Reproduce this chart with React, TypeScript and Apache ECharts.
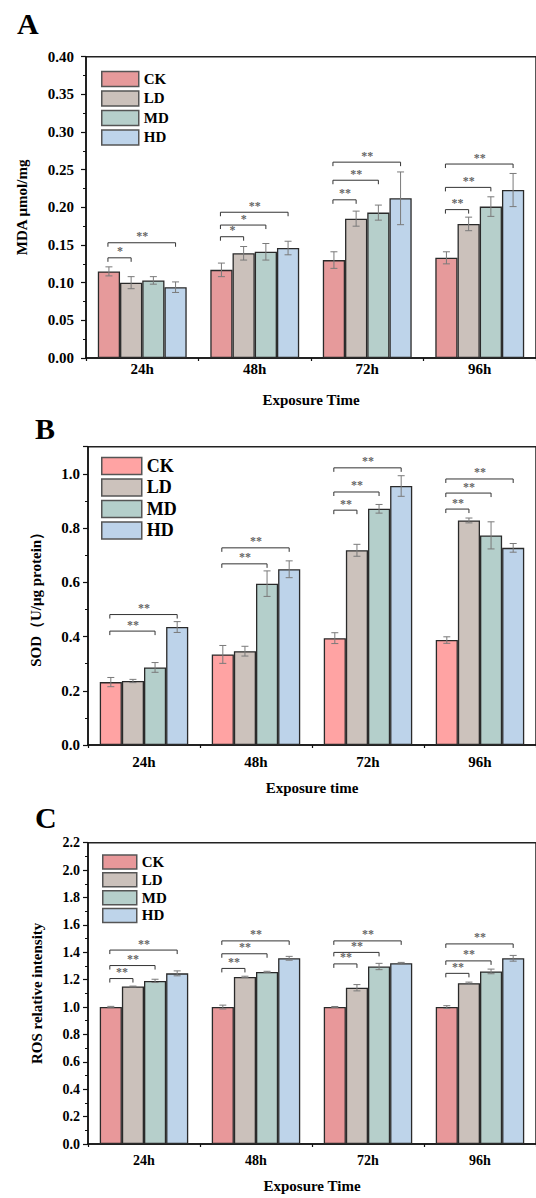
import React, { useEffect, useRef } from 'react';
import * as echarts from 'echarts';

const categories = ['24h', '48h', '72h', '96h'];
const groups = ['CK', 'LD', 'MD', 'HD'];

// Panel A: MDA
const mdaCK = [0.115, 0.117, 0.130, 0.133];
const mdaCKErr = [0.006, 0.009, 0.011, 0.008];
const mdaLD = [0.100, 0.139, 0.185, 0.178];
const mdaLDErr = [0.008, 0.009, 0.010, 0.009];
const mdaMD = [0.103, 0.141, 0.193, 0.201];
const mdaMDErr = [0.005, 0.011, 0.010, 0.013];
const mdaHD = [0.094, 0.146, 0.212, 0.223];
const mdaHDErr = [0.007, 0.009, 0.035, 0.022];

// Panel B: SOD
const sodCK = [0.232, 0.334, 0.394, 0.387];
const sodCKErr = [0.017, 0.033, 0.020, 0.012];
const sodLD = [0.236, 0.346, 0.718, 0.828];
const sodLDErr = [0.006, 0.018, 0.022, 0.009];
const sodMD = [0.286, 0.595, 0.871, 0.773];
const sodMDErr = [0.018, 0.047, 0.016, 0.050];
const sodHD = [0.435, 0.648, 0.955, 0.727];
const sodHDErr = [0.020, 0.031, 0.038, 0.016];

// Panel C: ROS
const rosCK = [1.0, 1.0, 1.0, 1.0];
const rosCKErr = [0.005, 0.014, 0.004, 0.010];
const rosLD = [1.150, 1.220, 1.141, 1.174];
const rosLDErr = [0.003, 0.005, 0.023, 0.008];
const rosMD = [1.191, 1.256, 1.296, 1.260];
const rosMDErr = [0.012, 0.005, 0.023, 0.017];
const rosHD = [1.246, 1.356, 1.320, 1.356];
const rosHDErr = [0.018, 0.014, 0.006, 0.021];

// Significance brackets: [category index, compared group index, bracket level, label]
const sigA: [number, number, number, string][] = [
  [0, 1, 0.133, '*'], [0, 3, 0.153, '**'],
  [1, 1, 0.161, '*'], [1, 2, 0.1765, '*'], [1, 3, 0.1935, '**'],
  [2, 1, 0.210, '**'], [2, 2, 0.236, '**'], [2, 3, 0.260, '**'],
  [3, 1, 0.197, '**'], [3, 2, 0.2265, '**'], [3, 3, 0.2575, '**'],
];
const sigB: [number, number, number, string][] = [
  [0, 2, 0.420, '**'], [0, 3, 0.481, '**'],
  [1, 2, 0.668, '**'], [1, 3, 0.727, '**'],
  [2, 1, 0.866, '**'], [2, 2, 0.933, '**'], [2, 3, 1.022, '**'],
  [3, 1, 0.870, '**'], [3, 2, 0.929, '**'], [3, 3, 0.981, '**'],
];
const sigC: [number, number, number, string][] = [
  [0, 1, 1.208, '**'], [0, 2, 1.303, '**'], [0, 3, 1.416, '**'],
  [1, 1, 1.282, '**'], [1, 2, 1.389, '**'], [1, 3, 1.483, '**'],
  [2, 1, 1.315, '**'], [2, 2, 1.399, '**'], [2, 3, 1.483, '**'],
  [3, 1, 1.246, '**'], [3, 2, 1.337, '**'], [3, 3, 1.461, '**'],
];

const colorsA = ['#E69A9B', '#CBC1BB', '#B6CFCB', '#BED4EA'];
const colorsB = ['#FFA3A3', '#CCC2BC', '#B4CFCB', '#BDD3EA'];
const colorsC = ['#E8989A', '#CBC1BB', '#B6CFCB', '#BED4EA'];

const FONT = "'Liberation Serif', 'Times New Roman', Times, serif";
const GAP = 0.21;

type PanelCfg = {
  letter: string;
  letterX: number;
  letterY: number;
  values: number[][];
  errors: number[][];
  sig: [number, number, number, string][];
  colors: string[];
  yMax: number;
  yInterval: number;
  decimals: number;
  yName: string;
  xName: string;
  grid: { left: number; right: number; top: number; bottom: number };
  legend: { left: number; top: number; w: number; h: number; gap: number; font: number };
  yLabelFont: number;
  yLabelMargin: number;
  xLabelFont: number;
  xLabelMargin: number;
  yNameGap: number;
  xNameGap: number;
  hideMax?: boolean;
};

// bar centre in "category units" (value axis 0..4 spans the same bands)
function barPos(cat: number, s: number) {
  return cat + 0.5 + (s - 1.5) * (1 - GAP) / 4;
}

function buildOption(p: PanelCfg): any {
  const errData: number[][] = [];
  for (let s = 0; s < 4; s++) {
    for (let c = 0; c < categories.length; c++) {
      errData.push([barPos(c, s), p.values[s][c], p.errors[s][c]]);
    }
  }
  const sigLineData = p.sig.map((d) => [barPos(d[0], 0), barPos(d[0], d[1]), d[2]]);
  const sigTextData = p.sig.map((d) => [(barPos(d[0], 0) + barPos(d[0], d[1])) / 2, d[2]]);
  const bold = { fontFamily: FONT, fontWeight: 'bold', color: '#000' };

  const barSeries = groups.map((g, i) => ({
    name: g,
    type: 'bar',
    data: p.values[i],
    barGap: '0%',
    barCategoryGap: GAP * 100 + '%',
    itemStyle: { color: p.colors[i], borderColor: '#2a2a2a', borderWidth: 1.3 },
    z: 2,
  }));

  return {
    animation: false,
    grid: {
      left: p.grid.left,
      right: p.grid.right,
      top: p.grid.top,
      bottom: p.grid.bottom,
      show: true,
      borderColor: '#222',
      borderWidth: 1.5,
      backgroundColor: 'transparent',
    },
    legend: {
      orient: 'vertical',
      left: p.legend.left,
      top: p.legend.top,
      padding: 0,
      itemWidth: p.legend.w,
      itemHeight: p.legend.h,
      itemGap: p.legend.gap,
      icon: 'rect',
      data: groups,
      itemStyle: { borderColor: '#555', borderWidth: 1.5 },
      textStyle: { ...bold, fontSize: p.legend.font, lineHeight: p.legend.h, padding: [0, 0, 0, 0] },
      selectedMode: false,
    },
    graphic: [
      {
        type: 'text',
        x: p.letterX,
        y: p.letterY,
        style: {
          text: p.letter,
          fontFamily: FONT,
          fontWeight: 'bold',
          fontSize: 30,
          fill: '#000',
          align: 'left',
          verticalAlign: 'middle',
        },
      },
    ],
    xAxis: [
      {
        type: 'category',
        data: categories,
        axisLine: { lineStyle: { color: '#111', width: 1.5 } },
        axisTick: { alignWithLabel: true, length: 4, lineStyle: { color: '#111', width: 1.2 } },
        axisLabel: { ...bold, fontSize: p.xLabelFont, margin: p.xLabelMargin },
        name: p.xName,
        nameLocation: 'middle',
        nameGap: p.xNameGap,
        nameTextStyle: { ...bold, fontSize: 15 },
      },
      {
        type: 'value',
        min: 0,
        max: 4,
        interval: 1,
        position: 'bottom',
        axisLine: { show: false },
        axisTick: { show: true, length: 3, lineStyle: { color: '#111', width: 1.2 } },
        axisLabel: { show: false },
        splitLine: { show: false },
      },
    ],
    yAxis: {
      type: 'value',
      min: 0,
      max: p.yMax,
      interval: p.yInterval,
      axisLine: { show: true, lineStyle: { color: '#111', width: 1.5 } },
      axisTick: { show: true, length: 5, lineStyle: { color: '#111', width: 1.2 } },
      minorTick: { show: true, splitNumber: 2, length: 3, lineStyle: { color: '#111', width: 1 } },
      splitLine: { show: false },
      axisLabel: {
        ...bold,
        fontSize: p.yLabelFont,
        margin: p.yLabelMargin,
        showMaxLabel: !p.hideMax,
        formatter: (v: number) => v.toFixed(p.decimals),
      },
      name: p.yName,
      nameLocation: 'middle',
      nameGap: p.yNameGap,
      nameTextStyle: { ...bold, fontSize: 15 },
    },
    series: [
      ...barSeries,
      {
        type: 'custom',
        name: 'err',
        xAxisIndex: 1,
        data: errData,
        encode: { x: 0, y: 1 },
        z: 5,
        silent: true,
        renderItem: (params: any, api: any) => {
          const xv = api.value(0);
          const v = api.value(1);
          const e = api.value(2);
          const top = api.coord([xv, v + e]);
          const bot = api.coord([xv, v - e]);
          const x = top[0];
          const cap = 3.5;
          const st = { stroke: '#7a7a7a', lineWidth: 1 };
          return {
            type: 'group',
            children: [
              { type: 'line', shape: { x1: x, y1: top[1], x2: x, y2: bot[1] }, style: st },
              { type: 'line', shape: { x1: x - cap, y1: top[1], x2: x + cap, y2: top[1] }, style: st },
              { type: 'line', shape: { x1: x - cap, y1: bot[1], x2: x + cap, y2: bot[1] }, style: st },
            ],
          };
        },
      },
      {
        type: 'custom',
        name: 'brackets',
        xAxisIndex: 1,
        data: sigLineData,
        encode: { x: [0, 1], y: 2 },
        z: 6,
        silent: true,
        renderItem: (params: any, api: any) => {
          const a = api.coord([api.value(0), api.value(2)]);
          const b = api.coord([api.value(1), api.value(2)]);
          const x1 = a[0] - 1;
          const x2 = b[0];
          const y = a[1];
          return {
            type: 'polyline',
            shape: { points: [[x1, y + 4], [x1, y], [x2, y], [x2, y + 4]] },
            style: { stroke: '#333', lineWidth: 1, fill: 'none' },
          };
        },
      },
      {
        type: 'scatter',
        name: 'stars',
        xAxisIndex: 1,
        data: sigTextData,
        symbol: 'circle',
        symbolSize: 1,
        itemStyle: { color: 'rgba(255,255,255,0)' },
        silent: true,
        z: 7,
        labelLayout: { hideOverlap: false },
        label: {
          show: true,
          position: 'top',
          distance: 0,
          color: '#3a3a3a',
          fontFamily: FONT,
          fontWeight: 'bold',
          fontSize: 12,
          formatter: (prm: any) => p.sig[prm.dataIndex][3],
        },
      },
    ],
  };
}

const panelA: PanelCfg = {
  letter: 'A', letterX: 17, letterY: 23.5,
  values: [mdaCK, mdaLD, mdaMD, mdaHD],
  errors: [mdaCKErr, mdaLDErr, mdaMDErr, mdaHDErr],
  sig: sigA, colors: colorsA,
  yMax: 0.4, yInterval: 0.05, decimals: 2,
  yName: 'MDA μmol/mg', xName: 'Exposure Time',
  grid: { left: 86, right: -2, top: 56.7, bottom: 49.3 },
  legend: { left: 101, top: 70.7, w: 37, h: 15, gap: 3, font: 15 },
  yLabelFont: 15, yLabelMargin: 12, xLabelFont: 15, xLabelMargin: 3,
  yNameGap: 57, xNameGap: 34,
};

const panelB: PanelCfg = {
  letter: 'B', letterX: 35, letterY: 16,
  values: [sodCK, sodLD, sodMD, sodHD],
  errors: [sodCKErr, sodLDErr, sodMDErr, sodHDErr],
  sig: sigB, colors: colorsB,
  yMax: 1.1, yInterval: 0.2, decimals: 1,
  yName: 'SOD（U/μg protein）', xName: 'Exposure time',
  grid: { left: 88, right: -4, top: 34.7, bottom: 44 },
  legend: { left: 101, top: 44.7, w: 40, h: 17, gap: 3, font: 18 },
  yLabelFont: 15, yLabelMargin: 8, xLabelFont: 15, xLabelMargin: 9,
  yNameGap: 45, xNameGap: 35, hideMax: true,
};

const panelC: PanelCfg = {
  letter: 'C', letterX: 35, letterY: 17.5,
  values: [rosCK, rosLD, rosMD, rosHD],
  errors: [rosCKErr, rosLDErr, rosMDErr, rosHDErr],
  sig: sigC, colors: colorsC,
  yMax: 2.2, yInterval: 0.2, decimals: 1,
  yName: 'ROS relative intensity', xName: 'Exposure Time',
  grid: { left: 88, right: -4, top: 42.7, bottom: 48.7 },
  legend: { left: 102, top: 54.3, w: 34, h: 14, gap: 2.3, font: 15 },
  yLabelFont: 14, yLabelMargin: 8, xLabelFont: 14, xLabelMargin: 9,
  yNameGap: 44, xNameGap: 34,
};

function Panel({ cfg, top, height }: { cfg: PanelCfg; top: number; height: number }) {
  const ref = useRef<HTMLDivElement>(null);
  useEffect(() => {
    if (!ref.current) return;
    const chart = echarts.init(ref.current, undefined, { renderer: 'svg' });
    chart.setOption(buildOption(cfg));
    return () => chart.dispose();
  }, [cfg]);
  return (
    <div
      ref={ref}
      style={{ position: 'absolute', left: 0, top, width: 536, height }}
    />
  );
}

export default function App() {
  return (
    <div style={{ position: 'absolute', left: 0, top: 0, width: 536, height: 1198, background: '#fff', overflow: 'hidden' }}>
      <Panel cfg={panelA} top={0} height={412} />
      <Panel cfg={panelB} top={412} height={388} />
      <Panel cfg={panelC} top={800} height={398} />
    </div>
  );
}
